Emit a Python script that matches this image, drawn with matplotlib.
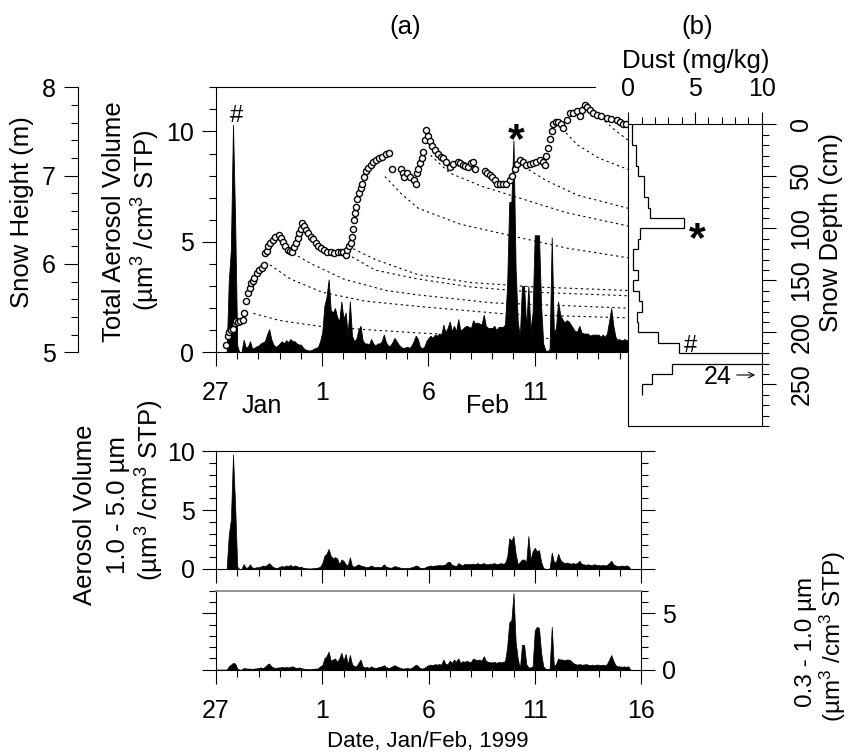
import numpy as np
import matplotlib
matplotlib.use("Agg")
import matplotlib.pyplot as plt
from matplotlib.ticker import MultipleLocator

plt.rcParams["font.family"] = ["Liberation Sans", "DejaVu Sans"]
plt.rcParams["mathtext.fontset"] = "custom"
plt.rcParams["mathtext.rm"] = "Liberation Sans"
plt.rcParams["mathtext.it"] = "Liberation Sans:italic"
plt.rcParams["mathtext.bf"] = "Liberation Sans:bold"

# aerosol volume, 0.1 day steps from 27 Jan 00:00 (one row per day)
coarse = [
    0, 0, 0, 0, 0, 0, 2.9, 4.2, 9.7, 5.4,
    0.2, 0, 0, 0.42, 0.1, 0.15, 0.4, 0.12, 0.1, 0.15,
    0.15, 0.2, 0.3, 0.25, 0.35, 0.5, 0.3, 0.15, 0.1, 0.1,
    0.2, 0.25, 0.2, 0.3, 0.25, 0.35, 0.2, 0.3, 0.25, 0.15,
    0.2, 0.1, 0.08, 0.05, 0.05, 0.05, 0.08, 0.1, 0.12, 0.2,
    0.5, 1.1, 1.3, 1.7, 1.1, 0.9, 1.0, 0.9, 0.4, 0.8,
    0.7, 0.4, 0.3, 1.0, 0.25, 0.2, 0.3, 0.4, 0.3, 0.25,
    0.2, 0.15, 0.2, 0.3, 0.2, 0.15, 0.2, 0.15, 0.2, 0.4,
    0.2, 0.15, 0.1, 0.15, 0.25, 0.2, 0.15, 0.1, 0.08, 0.1,
    0.1, 0.1, 0.15, 0.2, 0.3, 0.25, 0.1, 0.08, 0.1, 0.2,
    0.25, 0.3, 0.25, 0.3, 0.3, 0.35, 0.3, 0.35, 0.4, 0.6,
    0.6, 0.35, 0.3, 0.25, 0.5, 0.4, 0.3, 0.45, 0.4, 0.45,
    0.4, 0.45, 0.4, 0.5, 0.4, 0.45, 0.5, 0.4, 0.4, 0.45,
    0.45, 0.5, 0.4, 0.45, 0.5, 0.45, 0.5, 1.0, 2.6, 2.4,
    2.8, 1.3, 0.4, 0.6, 0.8, 0.8, 0.6, 2.8, 0.8, 1.5,
    1.8, 1.5, 1.6, 0.6, 0.1, 0, 0, 0.05, 1.4, 0.6,
    0.6, 1.3, 0.8, 0.6, 0.5, 0.55, 0.5, 0.45, 0.5, 0.45,
    0.5, 0.7, 0.45, 0.4, 0.35, 0.4, 0.35, 0.35, 0.4, 0.35,
    0.35, 0.3, 0.35, 0.3, 0.35, 0.5, 0.7, 0.4, 0.3, 0.25,
    0.25, 0.3, 0.25, 0.3, 0.25, 0,
]
fine = [
    0, 0, 0, 0, 0, 0, 0.3, 0.45, 0.6, 0.55,
    0.1, 0, 0, 0.15, 0.12, 0.1, 0.1, 0.05, 0.1, 0.12,
    0.15, 0.2, 0.15, 0.25, 0.45, 0.55, 0.3, 0.2, 0.15, 0.2,
    0.2, 0.25, 0.2, 0.25, 0.2, 0.25, 0.3, 0.2, 0.15, 0.2,
    0.15, 0.1, 0.05, 0.05, 0.03, 0.05, 0.08, 0.1, 0.12, 0.3,
    0.4, 1.0, 1.2, 1.6, 0.8, 0.9, 1.0, 0.7, 1.0, 1.5,
    0.8, 1.4, 0.5, 1.3, 0.5, 0.3, 0.3, 0.6, 0.9, 0.3,
    0.2, 0.25, 0.15, 0.3, 0.2, 0.15, 0.2, 0.25, 0.3, 0.4,
    0.25, 0.15, 0.2, 0.3, 0.4, 0.3, 0.2, 0.15, 0.1, 0.12,
    0.15, 0.1, 0.15, 0.3, 0.45, 0.35, 0.15, 0.1, 0.15, 0.3,
    0.4, 0.45, 0.4, 0.5, 0.45, 0.5, 0.45, 0.9, 0.5, 0.5,
    0.8, 0.6, 0.9, 0.7, 1.0, 0.6, 0.75, 0.7, 0.8, 0.7,
    0.7, 1.0, 0.9, 0.85, 0.9, 0.8, 1.2, 0.8, 0.7, 0.65,
    0.65, 0.7, 0.6, 0.7, 0.65, 0.7, 0.75, 2.0, 4.2, 4.4,
    6.8, 2.5, 1.0, 0.1, 2.2, 2.2, 0.5, 0.2, 0.2, 0.3,
    3.5, 3.8, 3.7, 1.5, 0.3, 0.1, 0.05, 0.1, 3.8, 0.3,
    0.5, 1.0, 0.9, 0.9, 0.85, 0.9, 0.9, 0.8, 0.6, 0.5,
    0.45, 0.5, 0.45, 0.45, 0.5, 0.45, 0.4, 0.45, 0.4, 0.45,
    0.45, 0.4, 0.45, 0.4, 0.5, 0.9, 1.3, 0.8, 0.4, 0.3,
    0.3, 0.25, 0.3, 0.25, 0.3, 0,
]
days = np.arange(len(coarse)) * 0.1
total = np.array(coarse) + np.array(fine)

# snow height (m) at the station
snow_day = [
    0.47, 0.55, 0.62, 0.72, 0.80, 0.88, 0.95, 1.05, 1.15, 1.26,
    1.34, 1.42, 1.50, 1.58, 1.65, 1.73, 1.81, 1.92, 2.04, 2.16,
    2.28, 2.32, 2.38, 2.43, 2.55, 2.67, 2.80, 2.98, 3.06, 3.14,
    3.26, 3.38, 3.50, 3.60, 3.68, 3.76, 3.84, 3.92, 4.00, 4.07,
    4.15, 4.23, 4.35, 4.46, 4.58, 4.70, 4.82, 4.93, 5.08, 5.24,
    5.40, 5.56, 5.72, 5.87, 6.00, 6.10, 6.18, 6.26, 6.34, 6.42,
    6.46, 6.50, 6.54, 6.57, 6.65, 6.73, 6.81, 6.89, 6.97, 7.05,
    7.16, 7.28, 7.40, 7.52, 7.68, 7.83, 7.99, 8.15, 8.30, 8.70,
    8.78, 8.85, 9.00, 9.15, 9.30, 9.40, 9.45, 9.52, 9.60, 9.68,
    9.75, 9.82, 9.90, 9.97, 10.05, 10.17, 10.29, 10.45, 10.60, 10.68,
    10.84, 10.99, 11.15, 11.39, 11.50, 11.62, 11.74, 11.86, 11.98, 12.10,
    12.17, 12.64, 12.76, 12.88, 13.00, 13.12, 13.24, 13.35, 13.50, 13.67,
    13.82, 13.94, 14.06, 14.18, 14.29, 14.45, 14.61, 14.76, 14.92, 15.08,
    15.24, 15.40, 15.47, 15.55, 15.63, 15.71, 15.79, 15.87, 16.00, 16.10,
    16.22, 16.34, 16.50, 16.65, 16.80, 16.97, 17.12, 17.24, 17.36, 17.48,
    17.60, 17.75, 17.91, 18.10, 18.38, 18.60, 18.85, 19.00, 19.16, 19.30,
]
snow_height = [
    5.08, 5.18, 5.23, 5.25, 5.26, 5.33, 5.35, 5.34, 5.36, 5.37,
    5.44, 5.58, 5.67, 5.73, 5.78, 5.81, 5.84, 5.90, 5.93, 5.96,
    5.99, 6.12, 6.15, 6.20, 6.24, 6.27, 6.30, 6.33, 6.29, 6.25,
    6.20, 6.16, 6.15, 6.14, 6.19, 6.24, 6.29, 6.35, 6.40, 6.46,
    6.43, 6.39, 6.35, 6.31, 6.28, 6.24, 6.20, 6.18, 6.16, 6.14,
    6.13, 6.12, 6.13, 6.14, 6.13, 6.10, 6.16, 6.20, 6.24, 6.31,
    6.40, 6.50, 6.58, 6.65, 6.73, 6.80, 6.86, 6.91, 6.98, 7.05,
    7.09, 7.12, 7.15, 7.18, 7.20, 7.21, 7.24, 7.26, 7.08, 7.07,
    7.03, 6.99, 7.03, 6.99, 6.95, 6.91, 7.03, 7.08, 7.14, 7.20,
    7.27, 7.40, 7.52, 7.45, 7.39, 7.34, 7.29, 7.25, 7.21, 7.20,
    7.15, 7.10, 7.13, 7.16, 7.14, 7.12, 7.11, 7.10, 7.14, 7.16,
    7.08, 7.05, 7.03, 7.01, 6.98, 6.95, 6.91, 6.90, 6.90, 6.91,
    6.95, 7.00, 7.07, 7.13, 7.18, 7.15, 7.12, 7.13, 7.14, 7.16,
    7.18, 7.15, 7.12, 7.22, 7.31, 7.42, 7.50, 7.59, 7.61, 7.61,
    7.58, 7.54, 7.63, 7.71, 7.71, 7.73, 7.67, 7.74, 7.80, 7.78,
    7.74, 7.71, 7.69, 7.68, 7.65, 7.64, 7.63, 7.61, 7.59, 7.59,
]

# buried snow layers (day, height in m)
layer_days = [
    [1.76, 3.0, 5.0, 7.5, 9.5, 12.0, 15.0, 19.4],
    [2.54, 3.5, 5.0, 7.0, 9.5, 13.8, 19.4],
    [3.4, 4.5, 6.0, 8.0, 9.5, 13.0, 19.4],
    [6.4, 7.5, 9.5, 12.0, 15.0, 19.4],
    [6.23, 7.5, 9.5, 12.0, 15.0, 19.4],
    [7.95, 8.7, 9.52, 11.5, 14.07, 16.5, 19.4],
    [10.1, 11.0, 12.5, 14.1, 16.5, 19.4],
    [14.5, 15.5, 17.0, 19.4],
    [16.3, 17.0, 18.0, 19.4],
    [18.1, 18.7, 19.4],
]
layer_heights = [
    [5.44, 5.36, 5.29, 5.25, 5.22, 5.19, 5.16, 5.14],
    [5.99, 5.83, 5.68, 5.58, 5.52, 5.43, 5.39],
    [6.15, 6.00, 5.83, 5.70, 5.65, 5.56, 5.50],
    [6.08, 5.93, 5.83, 5.74, 5.68, 5.64],
    [6.20, 6.05, 5.88, 5.79, 5.74, 5.70],
    [6.99, 6.80, 6.63, 6.45, 6.31, 6.18, 6.07],
    [7.23, 7.03, 6.88, 6.76, 6.58, 6.43],
    [7.10, 6.95, 6.78, 6.63],
    [7.53, 7.35, 7.20, 7.07],
    [7.66, 7.53, 7.40],
]

# snow pit dust profile
depth_edges = [0, 20, 40, 50, 70, 80, 90, 100, 110, 120, 140, 150, 160,
               170, 180, 190, 200, 210, 220, 230, 240, 250, 260]
dust = [0.25, 0.55, 0.75, 1.2, 1.45, 1.6, 4.2, 0.9, 0.7, 0.38, 0.7, 0.38,
        0.8, 1.0, 0.62, 0.75, 2.2, 3.8, 24, 3.3, 1.75, 1.05]

W, H = 848, 756
FS = 18.5
TS = 18


def box(x0, y0, x1, y1):
    return [x0 / W, 1 - y1 / H, (x1 - x0) / W, (y1 - y0) / H]


def ftext(x, y, s, **kw):
    kw.setdefault("ha", "center")
    kw.setdefault("va", "center")
    kw.setdefault("fontsize", FS)
    fig.text(x / W, 1 - y / H, s, **kw)


def ticks(ax, **kw):
    ax.tick_params(which="both", direction="out", width=0.8, labelsize=TS)
    ax.tick_params(which="major", length=10)
    ax.tick_params(which="minor", length=5)
    ax.tick_params(**kw)
    for s in ax.spines.values():
        s.set_linewidth(0.8)


fig = plt.figure(figsize=(W / 100, H / 100), dpi=100)

# (a) total aerosol volume + snow height
ax_a = fig.add_axes(box(216, 87.3, 628, 352.3))
ax_a.fill_between(days, 0, total, color="k", lw=0.6)
ax_a.set_xlim(0, 19.39)
ax_a.set_ylim(0, 12)
ax_a.spines[["top", "right"]].set_visible(False)
ax_a.plot([0, 17.86], [12, 12], color="k", lw=0.8, clip_on=False)
ax_a.set_xticks([0, 5, 10, 15])
ax_a.set_xticklabels(["27", "1", "6", "11"])
ax_a.xaxis.set_minor_locator(MultipleLocator(1))
ax_a.set_yticks([0, 5, 10])
ax_a.yaxis.set_minor_locator(MultipleLocator(1))
ticks(ax_a)
ax_a.tick_params(axis="x", pad=11)
ax_a.tick_params(axis="y", pad=6)

ax_h = ax_a.twinx()
ax_h.set_ylim(5, 8)
ax_h.yaxis.tick_left()
ax_h.spines[["right", "top", "bottom"]].set_visible(False)
ax_h.spines["left"].set_position(("outward", 138.3 * 0.72))
ax_h.set_yticks([5, 6, 7, 8])
ax_h.yaxis.set_minor_locator(MultipleLocator(0.2))
ticks(ax_h)
ax_h.tick_params(axis="y", pad=6)
for d, h in zip(layer_days, layer_heights):
    ax_h.plot(d, h, color="k", lw=0.8, ls=(0, (2, 3)))
ax_h.plot(snow_day, snow_height, "o", ms=4.4, mfc="white", mec="black",
          mew=1.0, zorder=5)

# (b) dust in the snow pit
ax_b = fig.add_axes(box(628.3, 124.3, 761.7, 426))
ax_b.stairs(dust, depth_edges, orientation="horizontal", baseline=None,
            color="k", lw=0.9)
ax_b.set_xlim(0, 10)
ax_b.set_ylim(290, 0)
ax_b.xaxis.tick_top()
ax_b.set_xticks([0, 5, 10])
ax_b.xaxis.set_minor_locator(MultipleLocator(1))
ax_b.yaxis.tick_right()
ax_b.set_yticks(range(0, 251, 50))
ax_b.set_yticklabels([str(v) for v in range(0, 251, 50)], rotation=90,
                     va="center")
ax_b.yaxis.set_minor_locator(MultipleLocator(10))
ticks(ax_b)
ax_b.tick_params(axis="x", which="major", length=9, pad=8)
ax_b.tick_params(axis="y", pad=10)
ax_b.annotate("", xy=(758, H - 375), xycoords="figure pixels",
              xytext=(734, H - 375), textcoords="figure pixels",
              arrowprops=dict(arrowstyle="->", lw=0.8, color="k"))

# coarse mode 1.0 - 5.0 um
ax_c = fig.add_axes(box(216, 451, 641, 569))
ax_c.fill_between(days, 0, coarse, color="k", lw=0.5)
ax_c.set_xlim(0, 20)
ax_c.set_ylim(0, 10)
ax_c.set_xticks([0, 5, 10, 15, 20])
ax_c.set_xticklabels([])
ax_c.xaxis.set_minor_locator(MultipleLocator(1))
ax_c.set_yticks([0, 5, 10])
ax_c.yaxis.set_minor_locator(MultipleLocator(1))
ticks(ax_c)
ax_c.tick_params(axis="y", which="both", right=True, pad=5)

# fine mode 0.3 - 1.0 um
ax_f = fig.add_axes(box(216, 590.7, 641, 669.7))
ax_f.fill_between(days, 0, fine, color="k", lw=0.5)
ax_f.set_xlim(0, 20)
ax_f.set_ylim(0, 7)
ax_f.set_xticks([0, 5, 10, 15, 20])
ax_f.set_xticklabels(["27", "1", "6", "11", "16"])
ax_f.xaxis.set_minor_locator(MultipleLocator(1))
ax_f.set_yticks([0, 5])
ax_f.yaxis.set_minor_locator(MultipleLocator(1))
ticks(ax_f)
ax_f.tick_params(axis="y", which="both", right=True, labelleft=False,
                 labelright=True, pad=5)
ax_f.tick_params(axis="x", pad=11)
ax_f.spines["top"].set_color("0.5")
ax_f.spines["top"].set_linewidth(1.2)

# texts
units = "(µm$^{3}$ /cm$^{3}$ STP)"
ftext(405, 27, "(a)")
ftext(697, 27, "(b)")
ftext(696, 61, "Dust (mg/kg)")
ftext(22, 212, "Snow Height (m)", rotation=90)
ftext(114, 222, "Total Aerosol Volume", rotation=90)
ftext(146, 220, units, rotation=90)
ftext(831, 232, "Snow Depth (cm)", rotation=90)
ftext(262, 406, "Jan", fontsize=TS)
ftext(488, 406, "Feb", fontsize=TS)
ftext(236, 116, "#", fontsize=17)
ftext(516, 152, "*", fontsize=31, fontweight="bold", va="baseline")
ftext(697, 251, "*", fontsize=31, fontweight="bold", va="baseline")
ftext(691, 346, "#", fontsize=17)
ftext(718, 377, "24", fontsize=TS)
ftext(85, 515, "Aerosol Volume", rotation=90)
ftext(118, 505, "1.0 - 5.0 µm", rotation=90)
ftext(150, 490, units, rotation=90)
ftext(806, 642, "0.3 - 1.0 µm", rotation=90, fontsize=17.5)
ftext(833, 636, units, rotation=90, fontsize=17.5)
ftext(428, 741, "Date, Jan/Feb, 1999", fontsize=16)

fig.savefig("out.png", dpi=100)
